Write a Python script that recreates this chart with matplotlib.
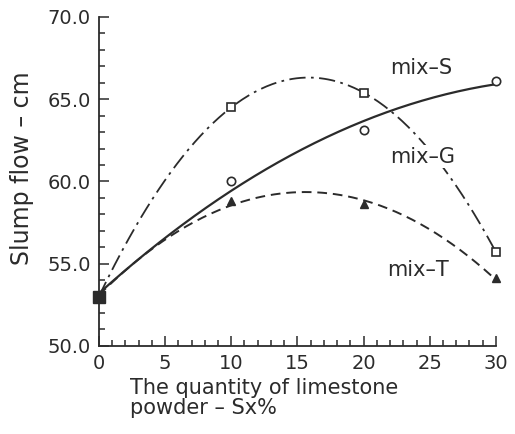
import numpy as np
import matplotlib
matplotlib.use("Agg")
import matplotlib.pyplot as plt
from matplotlib.ticker import MultipleLocator, FormatStrFormatter

# limestone powder content (%)
sx = [0, 10, 20, 30]
mix_s = [53.0, 64.5, 65.4, 55.7]
mix_g = [53.0, 60.0, 63.1, 66.1]
mix_t = [53.0, 58.8, 58.6, 54.1]

ink = "#2b2b2b"
plt.rcParams["font.family"] = "DejaVu Sans"

fig = plt.figure(figsize=(5.15, 4.34), dpi=100)
ax = fig.add_axes([0.192, 0.203, 0.771, 0.758])

xs = np.linspace(0, 30, 200)

# quadratic trend lines through the measured points
fit_s = np.polyval(np.polyfit(sx, mix_s, 2), xs)
fit_g = np.polyval(np.polyfit(sx, mix_g, 2), xs)
fit_t = np.polyval(np.polyfit(sx, mix_t, 2), xs)

ax.plot(xs, fit_s, color=ink, lw=1.3, dashes=(9, 3, 1.5, 3))
ax.plot(xs, fit_g, color=ink, lw=1.6)
ax.plot(xs, fit_t, color=ink, lw=1.4, dashes=(5, 3))

ax.plot(sx[1:], mix_s[1:], ls="none", marker="s", ms=6, mfc="white", mec=ink,
        mew=1.2, clip_on=False)
ax.plot(sx[1:], mix_g[1:], ls="none", marker="o", ms=6, mfc="white", mec=ink,
        mew=1.2, clip_on=False)
ax.plot(sx[1:], mix_t[1:], ls="none", marker="^", ms=6, mfc=ink, mec=ink,
        clip_on=False)
ax.plot(sx[:1], mix_s[:1], ls="none", marker="s", ms=9, mfc=ink, mec=ink,
        clip_on=False, zorder=5)

ax.text(22.0, 66.9, "mix\u2013S", fontsize=15, color=ink, va="center")
ax.text(22.0, 61.5, "mix\u2013G", fontsize=15, color=ink, va="center",
        bbox=dict(facecolor="white", edgecolor="none", pad=1))
ax.text(21.8, 54.6, "mix\u2013T", fontsize=15, color=ink, va="center")

ax.set_xlim(0, 30)
ax.set_ylim(50, 70)
ax.xaxis.set_major_locator(MultipleLocator(5))
ax.xaxis.set_minor_locator(MultipleLocator(1))
ax.yaxis.set_major_locator(MultipleLocator(5))
ax.yaxis.set_minor_locator(MultipleLocator(1))
ax.yaxis.set_major_formatter(FormatStrFormatter("%.1f"))

for side in ["top", "right"]:
    ax.spines[side].set_visible(False)
for side in ["left", "bottom"]:
    ax.spines[side].set_color(ink)
    ax.spines[side].set_linewidth(1.3)

ax.tick_params(which="both", direction="in", color=ink, width=1.1, labelcolor=ink,
               labelsize=14)
ax.tick_params(which="major", length=7, pad=6)
ax.tick_params(which="minor", length=4)

fig.text(0.043, 0.613, "Slump flow \u2013 cm", fontsize=17, color=ink,
         rotation=90, ha="center", va="center")
fig.text(0.252, 0.129, "The quantity of limestone\npowder \u2013 Sx%", fontsize=15,
         color=ink, ha="left", va="top", linespacing=1.0)

fig.savefig("out.png", dpi=100, facecolor="white")
